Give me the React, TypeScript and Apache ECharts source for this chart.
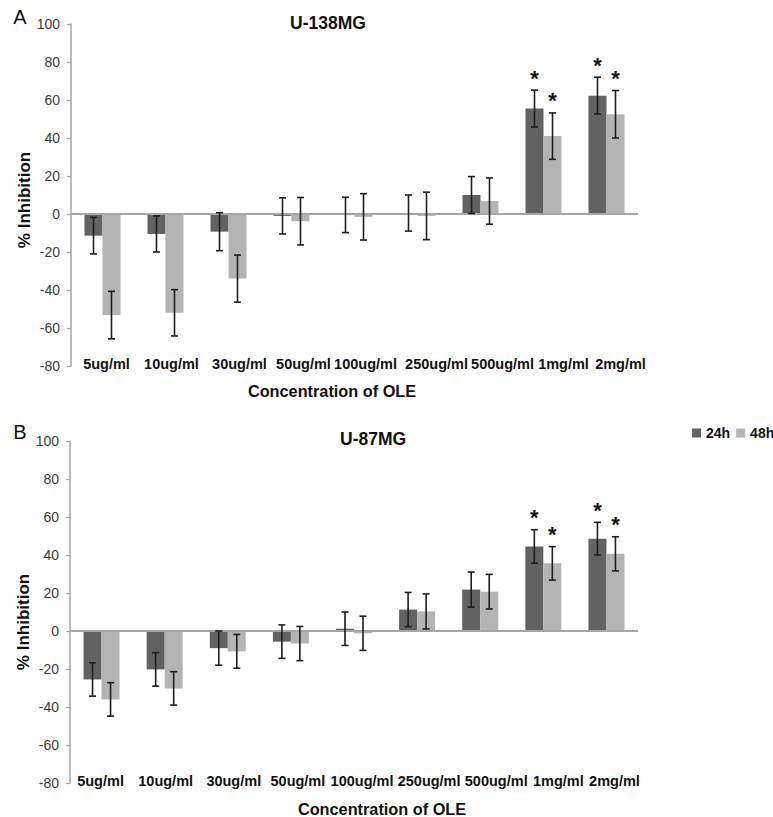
import React, { useEffect, useRef } from "react";
import * as echarts from "echarts";

const categories = ["5ug/ml", "10ug/ml", "30ug/ml", "50ug/ml", "100ug/ml", "250ug/ml", "500ug/ml", "1mg/ml", "2mg/ml"];
const seriesNames = ["24h", "48h"];
const yTicks = { min: -80, max: 100, interval: 20 };

// Panel A: U-138MG
const a24 = [-11.4, -10.5, -9.3, -1.0, -0.5, 0.5, 10.0, 55.5, 62.3];
const a24err = [9.6, 9.5, 10.0, 9.5, 9.3, 9.5, 9.7, 9.7, 9.7];
const a48 = [-53.2, -52.0, -34.0, -3.8, -1.5, -1.0, 6.8, 41.0, 52.5];
const a48err = [12.5, 12.2, 12.4, 12.5, 12.2, 12.5, 12.2, 12.2, 12.5];
const aStar24 = [0, 0, 0, 0, 0, 0, 0, 1, 1];
const aStar48 = [0, 0, 0, 0, 0, 0, 0, 1, 1];

// Panel B: U-87MG
const b24 = [-25.5, -20.2, -9.0, -5.6, 1.2, 11.3, 21.8, 44.5, 48.6];
const b24err = [8.8, 8.8, 9.0, 8.8, 8.8, 9.0, 9.2, 8.8, 8.6];
const b48 = [-36.0, -30.2, -10.7, -6.6, -1.2, 10.3, 20.7, 35.6, 40.6];
const b48err = [8.8, 8.8, 8.9, 9.0, 9.0, 9.2, 9.1, 8.8, 9.0];
const bStar24 = [0, 0, 0, 0, 0, 0, 0, 1, 1];
const bStar48 = [0, 0, 0, 0, 0, 0, 0, 1, 1];

// layout (not data)
const labelShiftA = [4, 6, 11, 12, 11, 19, 22, 20, 14];
const labelShiftB = [-1, 1, 6, 7, 8, 12, 16, 15, 8];
const FONT = "'Liberation Sans', Arial, Helvetica, sans-serif";
const DARK = "#626262";
const LIGHT = "#b4b4b4";
const AXIS = "#a6a6a6";
const BAR_W = 18;

function richFor(shifts: number[]) {
  const r: Record<string, any> = {};
  shifts.forEach((s, i) => {
    r["s" + i] = {
      fontSize: 14.5,
      fontWeight: "bold",
      fontFamily: FONT,
      color: "#111",
      padding: s >= 0 ? [0, 0, 0, 2 * s] : [0, -2 * s, 0, 0],
    };
  });
  return r;
}

function errData(m24: number[], e24: number[], s24: number[], m48: number[], e48: number[], s48: number[]) {
  const d: number[][] = [];
  categories.forEach((_, i) => {
    d.push([i, m24[i], e24[i], 0, s24[i]]);
    d.push([i, m48[i], e48[i], 1, s48[i]]);
  });
  return d;
}

function renderErr(params: any, api: any) {
  const cat = api.value(0);
  const mean = api.value(1);
  const err = api.value(2);
  const side = api.value(3);
  const star = api.value(4);
  const top = api.coord([cat, mean + err]);
  const bot = api.coord([cat, mean - err]);
  const x = top[0] + (side === 0 ? -BAR_W / 2 : BAR_W / 2);
  const cap = 3.5;
  const ls = { stroke: "#1e1e1e", lineWidth: 1.6 };
  const children: any[] = [
    { type: "line", shape: { x1: x, y1: top[1], x2: x, y2: bot[1] }, style: ls },
    { type: "line", shape: { x1: x - cap, y1: top[1], x2: x + cap, y2: top[1] }, style: ls },
    { type: "line", shape: { x1: x - cap, y1: bot[1], x2: x + cap, y2: bot[1] }, style: ls },
  ];
  if (star) {
    children.push({
      type: "text",
      x: x,
      y: top[1] - 12,
      style: {
        text: "*",
        fontSize: 22,
        fontWeight: "bold",
        fontFamily: FONT,
        fill: "#111",
        align: "center",
        verticalAlign: "middle",
      },
    });
  }
  return { type: "group", children };
}

function xAxisFor(gridIndex: number, shifts: number[]) {
  return {
    type: "category",
    gridIndex,
    data: categories,
    axisLine: { show: false },
    axisTick: { show: false },
    axisLabel: {
      interval: 0,
      margin: -2,
      verticalAlign: "middle",
      formatter: (v: string, i: number) => `{s${i}|${v}}`,
      rich: richFor(shifts),
    },
  };
}

function yAxisFor(gridIndex: number) {
  return {
    type: "value",
    gridIndex,
    min: yTicks.min,
    max: yTicks.max,
    interval: yTicks.interval,
    splitLine: { show: false },
    axisLine: { show: true, lineStyle: { color: AXIS, width: 1.5 } },
    axisTick: { show: true, length: 4, lineStyle: { color: AXIS, width: 1.2 } },
    axisLabel: { margin: 11, fontSize: 14, fontFamily: FONT, color: "#3c3c3c" },
  };
}

function barSeries(name: string, idx: number, data: number[], color: string, withZero: boolean) {
  const s: any = {
    name,
    type: "bar",
    xAxisIndex: idx,
    yAxisIndex: idx,
    data,
    barWidth: BAR_W,
    barGap: "0%",
    itemStyle: { color },
  };
  if (withZero) {
    s.markLine = {
      silent: true,
      symbol: ["none", "none"],
      label: { show: false },
      lineStyle: { color: AXIS, width: 1.8, type: "solid" },
      data: [{ yAxis: 0 }],
    };
  }
  return s;
}

function textG(text: string, x: number, y: number, size: number, weight: string, rotate = 0) {
  return {
    type: "text",
    x,
    y,
    rotation: rotate,
    style: {
      text,
      fontSize: size,
      fontWeight: weight,
      fontFamily: FONT,
      fill: "#111",
      align: "center",
      verticalAlign: "middle",
    },
  };
}

export default function App() {
  const ref = useRef<HTMLDivElement>(null);
  useEffect(() => {
    document.body.style.margin = "0";
    const chart = echarts.init(ref.current!, null, { renderer: "svg" });
    chart.setOption({
      animation: false,
      backgroundColor: "#ffffff",
      title: [
        { text: "U-138MG", left: 290, top: 14, padding: 0, textStyle: { fontSize: 17.5, fontWeight: "bold", fontFamily: FONT, color: "#111" } },
        { text: "U-87MG", left: 340, top: 430, padding: 0, textStyle: { fontSize: 17.5, fontWeight: "bold", fontFamily: FONT, color: "#111" } },
      ],
      legend: {
        data: seriesNames,
        orient: "horizontal",
        left: 692,
        top: 426,
        width: 200,
        padding: 0,
        icon: "rect",
        itemWidth: 9,
        itemHeight: 9,
        itemGap: 6,
        textStyle: { fontSize: 14, fontWeight: "bold", fontFamily: FONT, color: "#111" },
      },
      grid: [
        { left: 71, top: 24, width: 567, height: 342 },
        { left: 70, top: 441, width: 568, height: 342 },
      ],
      xAxis: [xAxisFor(0, labelShiftA), xAxisFor(1, labelShiftB)],
      yAxis: [yAxisFor(0), yAxisFor(1)],
      graphic: [
        textG("A", 20, 17, 20, "normal"),
        textG("B", 20, 432, 20, "normal"),
        textG("% Inhibition", 24, 200, 17, "bold", Math.PI / 2),
        textG("% Inhibition", 23, 622, 17, "bold", Math.PI / 2),
        textG("Concentration of OLE", 332, 391, 16.3, "bold"),
        textG("Concentration of OLE", 382, 809, 16.3, "bold"),
      ],
      series: [
        barSeries(seriesNames[0], 0, a24, DARK, true),
        barSeries(seriesNames[1], 0, a48, LIGHT, false),
        {
          name: "errA",
          type: "custom",
          xAxisIndex: 0,
          yAxisIndex: 0,
          renderItem: renderErr,
          encode: { x: 0, y: 1 },
          data: errData(a24, a24err, aStar24, a48, a48err, aStar48),
          z: 5,
        },
        barSeries(seriesNames[0], 1, b24, DARK, true),
        barSeries(seriesNames[1], 1, b48, LIGHT, false),
        {
          name: "errB",
          type: "custom",
          xAxisIndex: 1,
          yAxisIndex: 1,
          renderItem: renderErr,
          encode: { x: 0, y: 1 },
          data: errData(b24, b24err, bStar24, b48, b48err, bStar48),
          z: 5,
        },
      ],
    });
    return () => chart.dispose();
  }, []);
  return <div ref={ref} style={{ width: 773, height: 817 }} />;
}
